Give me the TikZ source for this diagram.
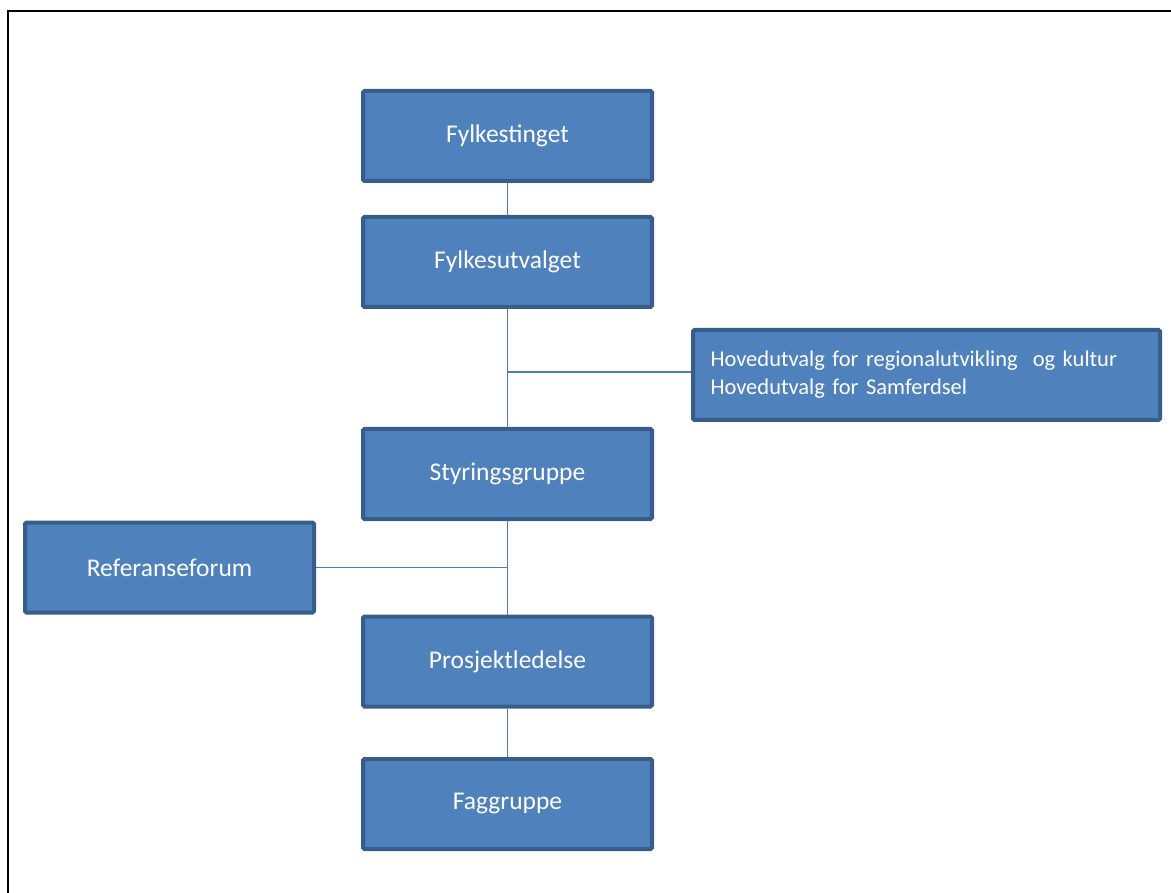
\documentclass[tikz,border=0pt]{standalone}
\usepackage{fontspec}
\setmainfont{Carlito}
\definecolor{boxfill}{HTML}{4F81BD}
\definecolor{boxedge}{HTML}{385D8A}
\definecolor{linkcol}{HTML}{4A7EBB}
\begin{document}
\begin{tikzpicture}[x=1pt,y=1pt,
  orgbox/.style={draw=boxedge, line width=4pt, fill=boxfill, rounded corners=1.5pt,
    minimum width=289pt, minimum height=90pt, inner sep=0pt,
    text=white, font=\fontsize{25.5}{30}\selectfont},
  widebox/.style={orgbox, minimum width=467pt, align=left, text width=432pt,
    font=\fontsize{22.5}{28}\selectfont},
  link/.style={draw=linkcol, line width=1.3pt}]
\useasboundingbox (0,0) rectangle (1171,-893);
\draw[line width=2pt, black] (8,-893) -- (8,-11) -- (1171,-11);
\node[orgbox] (ting) at (507.5,-136) {Fylkestinget};
\node[orgbox] (utv) at (507.5,-262) {Fylkesutvalget};
\node[widebox] (hov) at (926.5,-375) {Hovedutvalg for regionalutvikling\ \ og kultur\\Hovedutvalg for Samferdsel};
\node[orgbox] (styr) at (507.5,-474) {Styringsgruppe};
\node[orgbox] (ref) at (169.5,-567.5) {Referanseforum};
\node[orgbox] (pros) at (507.5,-661.5) {Prosjektledelse};
\node[orgbox] (fag) at (507.5,-804) {Faggruppe};
\coordinate (j1) at (507.5,-372);
\coordinate (j2) at (507.5,-567.5);
\draw[link] (ting.south) -- (utv.north);
\draw[link] (utv.south) -- (styr.north);
\draw[link] (j1) -- (hov.west |- j1);
\draw[link] (styr.south) -- (pros.north);
\draw[link] (j2) -- (ref.east |- j2);
\draw[link] (pros.south) -- (fag.north);
\end{tikzpicture}
\end{document}
